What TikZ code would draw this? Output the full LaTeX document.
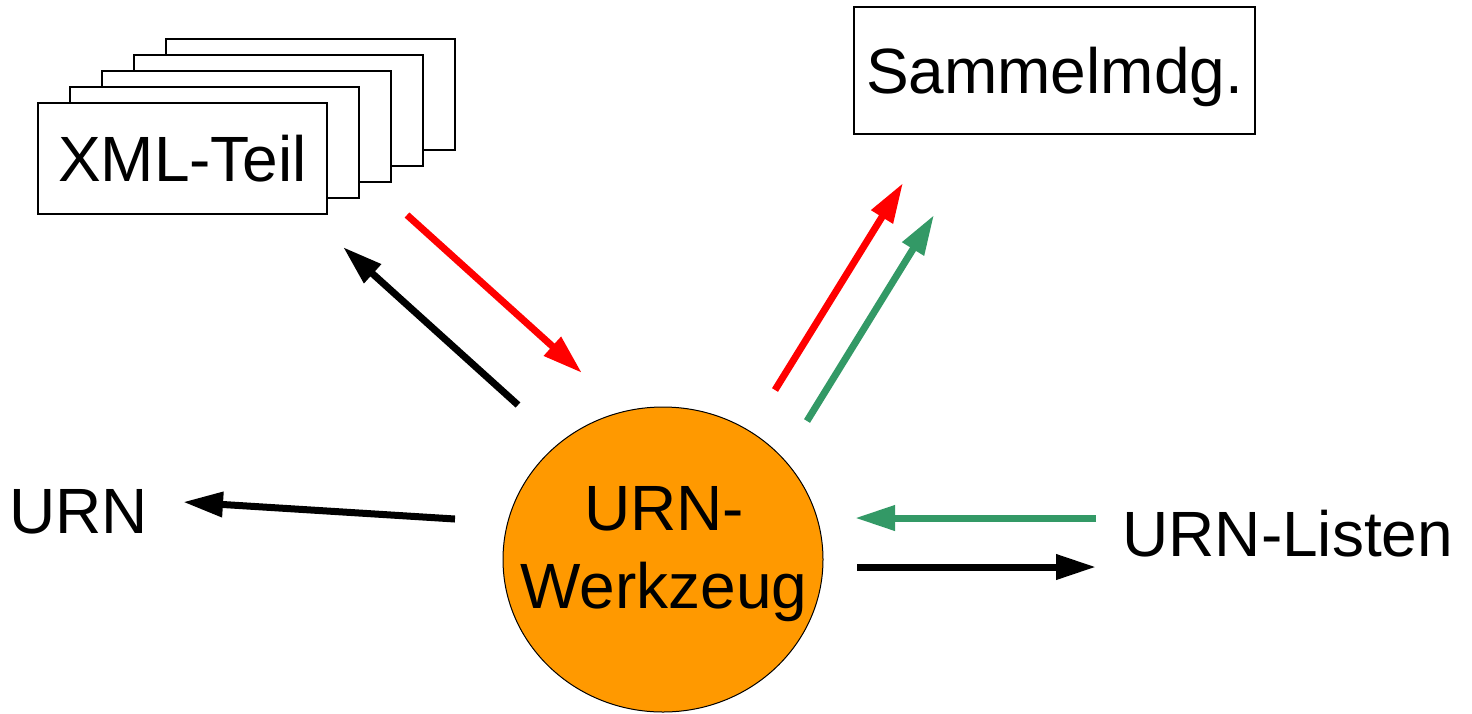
\documentclass[tikz,border=0pt]{standalone}
\usepackage{fontspec}
\setmainfont{Liberation Sans}
\usetikzlibrary{arrows.meta,shapes.geometric}
\definecolor{arrowred}{RGB}{255,0,0}
\definecolor{arrowgreen}{RGB}{51,153,102}
\definecolor{toolorange}{RGB}{255,153,0}
\begin{document}
\begin{tikzpicture}[x=0.5pt,y=-0.5pt,
  lbl/.style={font=\fontsize{32}{39}\selectfont, inner sep=0pt},
  page/.style={draw, fill=white, line width=0.75pt, minimum width=144.5pt, minimum height=55.5pt, inner sep=0pt},
  flow/.style={line width=3.5pt, -{Triangle[length=20pt,width=12pt]}},
]
\useasboundingbox (0,0) rectangle (1472,713);
\foreach \k in {4,3,2,1} \node[page] (p\k) at (182.5+32*\k,158.5-16*\k) {};
\node[page, lbl] (xml) at (182.5,158.5) {XML-Teil};
\node[draw, line width=0.75pt, minimum width=200.5pt, minimum height=63.5pt, lbl, text depth=0pt] (sm) at (1054.5,70.5) {Sammelmdg.};
\node[ellipse, draw, fill=toolorange, line width=0.5pt, minimum width=160pt, minimum height=152.5pt, inner sep=0pt] (tool) at (663,559.5) {};
\node[lbl, align=center] (toolname) at (664,554) {URN-\\Werkzeug};
\node[lbl, anchor=base west] (urn) at (9,533) {URN};
\node[lbl, anchor=base west] (list) at (1122,556) {URN-Listen};
\coordinate (a1s) at (518,405); \coordinate (a1e) at (343,247);
\coordinate (a2s) at (407,215); \coordinate (a2e) at (582,373);
\coordinate (a3s) at (775,390); \coordinate (a3e) at (903,183);
\coordinate (a4s) at (807,421); \coordinate (a4e) at (934,215);
\coordinate (a5s) at (455,519); \coordinate (a5e) at (183,502);
\coordinate (a6s) at (1096,518); \coordinate (a6e) at (855,518);
\coordinate (a7s) at (857,567); \coordinate (a7e) at (1096,567);
\draw[flow, black] (a1s) -- (a1e);
\draw[flow, arrowred] (a2s) -- (a2e);
\draw[flow, arrowred] (a3s) -- (a3e);
\draw[flow, arrowgreen] (a4s) -- (a4e);
\draw[flow, black] (a5s) -- (a5e);
\draw[flow, arrowgreen] (a6s) -- (a6e);
\draw[flow, black] (a7s) -- (a7e);
\end{tikzpicture}
\end{document}
